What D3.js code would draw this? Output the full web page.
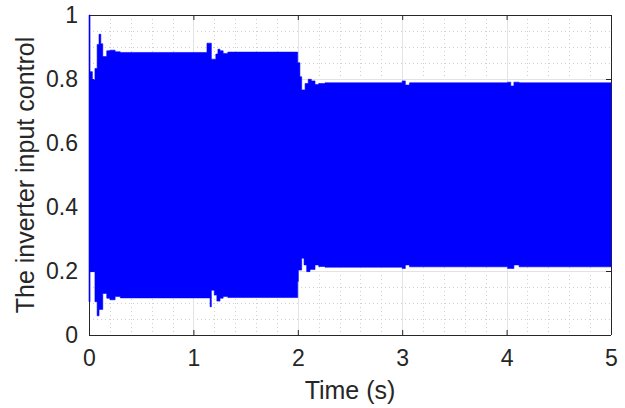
<!DOCTYPE html>
<html>
<head>
<meta charset="utf-8">
<script src="https://cdn.jsdelivr.net/npm/d3@7"></script>
<style>
  html, body { margin: 0; padding: 0; background: #ffffff; }
  svg { display: block; }
  text { font-family: "Liberation Sans", Arial, Helvetica, sans-serif; fill: #262626; }
</style>
</head>
<body>
<script>
// ---- data (envelope of the dense switching signal) ----
const time  = [0, 0.010, 0.032, 0.057, 0.078, 0.096, 0.113, 0.132, 0.17, 0.20, 0.25, 0.30,
               1.13, 1.16, 1.172, 1.20, 1.215, 1.225, 1.235, 1.255, 1.285, 1.33,
               1.999, 2.005, 2.02, 2.037, 2.06, 2.07, 2.085, 2.10, 2.117, 2.13, 2.165, 2.20, 2.26,
               3.00, 3.03, 3.07, 4.01, 4.04, 4.07, 4.12, 5.0];
const upper = [1.0, 0.823, 0.797, 0.833, 0.908, 0.94, 0.91, 0.87, 0.888, 0.89, 0.885, 0.883,
               0.912, 0.912, 0.862, 0.862, 0.878, 0.878, 0.893, 0.888, 0.880, 0.884,
               0.851, 0.851, 0.807, 0.766, 0.766, 0.786, 0.786, 0.799, 0.799, 0.794, 0.783, 0.786, 0.788,
               0.794, 0.781, 0.788, 0.790, 0.778, 0.790, 0.788, 0.788];
const lower = [0.104, 0.198, 0.198, 0.104, 0.06, 0.08, 0.08, 0.13, 0.115, 0.11, 0.12, 0.116,
               0.116, 0.088, 0.14, 0.125, 0.125, 0.106, 0.106, 0.115, 0.12, 0.117,
               0.167, 0.203, 0.203, 0.24, 0.219, 0.219, 0.198, 0.198, 0.205, 0.205, 0.219, 0.214, 0.212,
               0.208, 0.219, 0.213, 0.208, 0.208, 0.219, 0.213, 0.213];
const xTicks = [0, 1, 2, 3, 4, 5];
const yTicks = [0, 0.2, 0.4, 0.6, 0.8, 1];
const xMinor = d3.range(0, 5.0001, 0.2);
const yMinor = d3.range(0, 1.0001, 0.05);
const xLabel = "Time (s)";
const yLabel = "The inverter input control";

const W = 625, H = 408;
const L = 89, R = 611, T = 15, B = 335;

const svg = d3.select("body").append("svg").attr("width", W).attr("height", H);

const x = d3.scaleLinear().domain([0, 5]).range([L, R]);
const y = d3.scaleLinear().domain([0, 1]).range([B, T]);

// minor grid (dotted)
const grid = svg.append("g");
grid.selectAll(".xm").data(xMinor).enter().append("line")
  .attr("x1", d => Math.round(x(d)) + 0.5).attr("x2", d => Math.round(x(d)) + 0.5)
  .attr("y1", T).attr("y2", B)
  .attr("stroke", "#cfcfcf").attr("stroke-width", 1).attr("stroke-dasharray", "1,3");
grid.selectAll(".ym").data(yMinor).enter().append("line")
  .attr("y1", d => Math.round(y(d)) + 0.5).attr("y2", d => Math.round(y(d)) + 0.5)
  .attr("x1", L).attr("x2", R)
  .attr("stroke", "#cfcfcf").attr("stroke-width", 1).attr("stroke-dasharray", "1,3");
// major grid
grid.selectAll(".xM").data(xTicks).enter().append("line")
  .attr("x1", d => Math.round(x(d)) + 0.5).attr("x2", d => Math.round(x(d)) + 0.5)
  .attr("y1", T).attr("y2", B)
  .attr("stroke", "#e3e3e3").attr("stroke-width", 1);
grid.selectAll(".yM").data(yTicks).enter().append("line")
  .attr("y1", d => Math.round(y(d)) + 0.5).attr("y2", d => Math.round(y(d)) + 0.5)
  .attr("x1", L).attr("x2", R)
  .attr("stroke", "#e3e3e3").attr("stroke-width", 1);

// axes (inward ticks, box)
const fmt = d => d3.format("~g")(d);
const axB = svg.append("g").attr("transform", `translate(0,${B})`)
  .call(d3.axisBottom(x).tickValues(xTicks).tickSize(-5).tickPadding(15).tickFormat(fmt));
const axT = svg.append("g").attr("transform", `translate(0,${T})`)
  .call(d3.axisTop(x).tickValues(xTicks).tickSize(-5).tickFormat(""));
const axL = svg.append("g").attr("transform", `translate(${L},0)`)
  .call(d3.axisLeft(y).tickValues(yTicks).tickSize(-5).tickPadding(11).tickFormat(fmt));
const axR = svg.append("g").attr("transform", `translate(${R},0)`)
  .call(d3.axisRight(y).tickValues(yTicks).tickSize(-5).tickFormat(""));
[axB, axT, axL, axR].forEach(g => {
  g.selectAll("path.domain").attr("stroke", "#262626").attr("stroke-width", 1);
  g.selectAll(".tick line").attr("stroke", "#262626").attr("stroke-width", 1);
  g.selectAll(".tick text").attr("fill", "#262626")
    .style("font-family", '"Liberation Sans", Arial, sans-serif').style("font-size", "23px");
});
// remove the outer tick ends of the domain paths
[axB, axT].forEach(g => g.select("path.domain").attr("d", `M${L},0.5H${R}`));
[axL, axR].forEach(g => g.select("path.domain").attr("d", `M0.5,${T}V${B}`));

// signal (dense oscillation shown by its envelope)
const rows = time.map((t, i) => ({ t, hi: upper[i], lo: lower[i] }));
const area = d3.area()
  .x(d => x(d.t))
  .y0(d => y(d.lo))
  .y1(d => y(d.hi))
  .curve(d3.curveStepAfter);
svg.append("path").datum(rows)
  .attr("d", area)
  .attr("fill", "#0000ff")
  .attr("stroke", "#0000ff")
  .attr("stroke-width", 0.6);

// labels
svg.append("text")
  .attr("x", (L + R) / 2).attr("y", 399)
  .attr("text-anchor", "middle")
  .style("font-size", "25px")
  .text(xLabel);
svg.append("text")
  .attr("transform", `translate(34,${(T + B) / 2}) rotate(-90)`)
  .attr("text-anchor", "middle")
  .style("font-size", "25px")
  .text(yLabel);
</script>
</body>
</html>
